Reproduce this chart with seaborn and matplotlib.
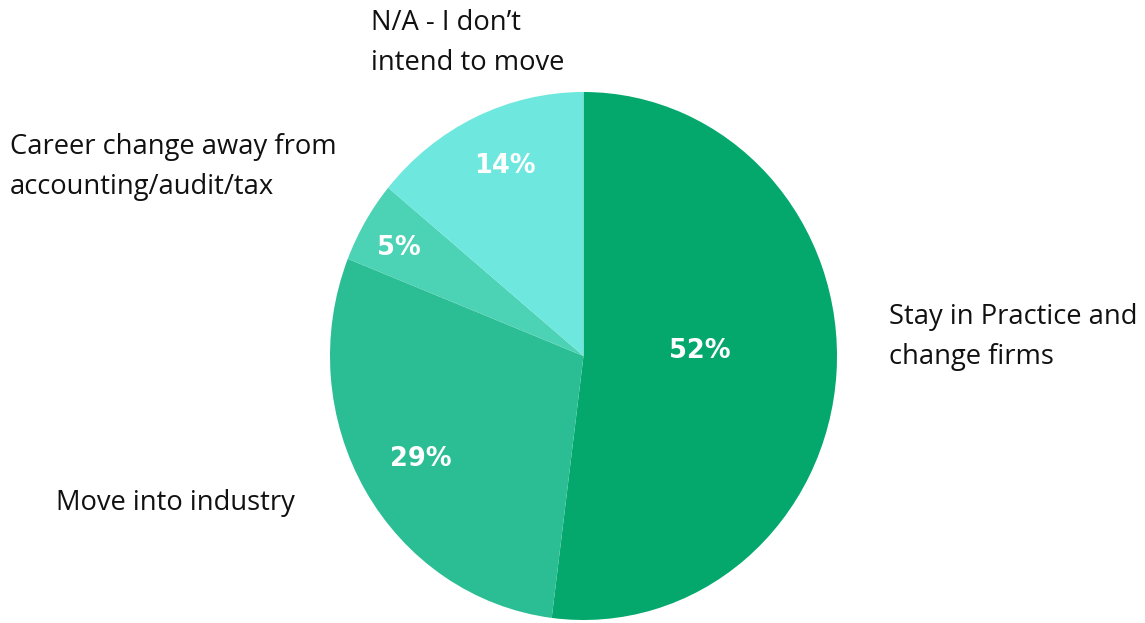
import matplotlib
matplotlib.use("Agg")
import matplotlib.pyplot as plt
import seaborn as sns

categories = [
    "Stay in Practice and\nchange firms",
    "Move into industry",
    "Career change away from\naccounting/audit/tax",
    "N/A - I don\u2019t\nintend to move",
]
shares = [52, 29, 5, 14]
colors = ["#04A86C", "#2BBE94", "#4CD2B4", "#6EE8DE"]

sns.set_theme(style="white")
plt.rcParams["font.family"] = ["Open Sans", "DejaVu Sans"]

W, H = 1145, 623
fig = plt.figure(figsize=(W / 100, H / 100), dpi=100)

# pie axes placed in pixel units so the disc sits where intended
px_left, px_right, px_top, px_bottom = 330, 837, 92, 620
ax = fig.add_axes([px_left / W, (H - px_bottom) / H,
                   (px_right - px_left) / W, (px_bottom - px_top) / H])

wedges, _ = ax.pie(shares, colors=colors, startangle=90, counterclock=False,
                   radius=1.0, wedgeprops=dict(linewidth=0))
ax.set_aspect("auto")
ax.set_xlim(-1, 1)
ax.set_ylim(-1, 1)
ax.axis("off")

# percentage labels inside each slice
pct_pos = [(0.46, 0.02), (-0.64, -0.39), (-0.73, 0.41), (-0.31, 0.72)]
for val, (x, y) in zip(shares, pct_pos):
    ax.text(x, y, f"{val}%", color="white", fontsize=18.5, fontweight="bold",
            family="DejaVu Sans", ha="center", va="center")

# category labels around the pie (figure coordinates)
label_pos = [(889, 337), (56, 503), (10, 167), (371, 43)]
for text, (x, y) in zip(categories, label_pos):
    fig.text(x / W, 1 - y / H, text, fontsize=19.7, color="#111111",
             ha="left", va="center", linespacing=1.6)

fig.savefig("out.png", dpi=100)
